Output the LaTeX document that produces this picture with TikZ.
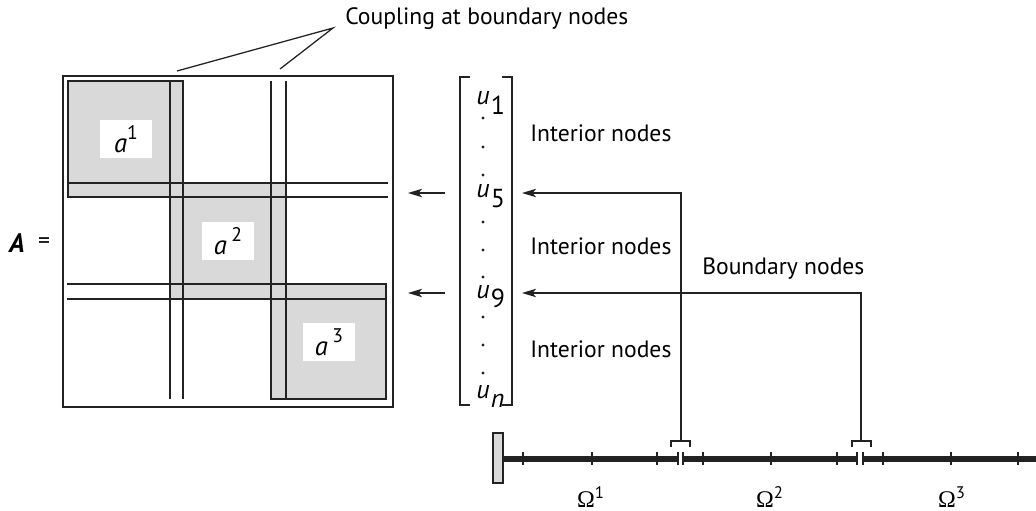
\documentclass[tikz,border=0pt]{standalone}
\usepackage{fontspec}
\setmainfont{PT Sans}
\newfontfamily\omegafont{Liberation Serif}
\usepackage{xcolor}
\definecolor{blockgray}{HTML}{D9D9D9}
\definecolor{inkline}{HTML}{222222}
\usetikzlibrary{arrows.meta,positioning}

\begin{document}
\begin{tikzpicture}[
    x=0.025cm, y=-0.025cm, >=Stealth, font=\fontsize{16.8}{19}\selectfont,
    thinline/.style={draw=inkline, line width=0.9pt},
    blockfill/.style={fill=blockgray},
    labelbox/.style={fill=white, minimum width=1.3cm, minimum height=0.95cm, inner sep=0pt, font=\fontsize{19}{21}\selectfont},
    sidetext/.style={anchor=base west, inner sep=0pt},
    ventry/.style={anchor=base west, inner sep=0pt, font=\fontsize{18.5}{20}\selectfont},
    arr/.style={-{Stealth[length=10pt,width=6pt,inset=2.5pt]}, draw=inkline, line width=0.9pt},
    beamline/.style={draw=inkline, line width=3.6pt},
    tickmark/.style={draw=inkline, line width=0.8pt},
    clamp/.style={draw=inkline, line width=1.2pt}
  ]
  \useasboundingbox (0,0) rectangle (1036,511);

  % block matrix
  \fill[blockfill] (68,81) rectangle (183,197);
  \fill[blockfill] (170,183) rectangle (286,299);
  \fill[blockfill] (271,284) rectangle (386,399);
  \draw[thinline] (63,76) rectangle (393,407);
  \draw[thinline] (68,81) rectangle (183,197);
  \draw[thinline] (271,284) rectangle (386,399);
  \foreach \x in {170,183,271,286} {\draw[thinline] (\x,81) -- (\x,399);}
  \foreach \y in {183,197} {\draw[thinline] (68,\y) -- (388,\y);}
  \foreach \y in {284,299} {\draw[thinline] (67,\y) -- (386,\y);}
  \node[labelbox] (a1) at (126,139) {\textit{a}\raisebox{0.5em}{\fontsize{14}{14}\selectfont 1}};
  \node[labelbox] (a2) at (228,241) {\textit{a}\,\raisebox{0.5em}{\fontsize{14}{14}\selectfont 2}};
  \node[labelbox] (a3) at (329,342) {\textit{a}\,\raisebox{0.5em}{\fontsize{14}{14}\selectfont 3}};
  \node[font=\fontsize{19}{21}\selectfont] (lhs) at (17,243) {\textbf{\textit{A}}};
  \node (eq) at (44,243) {=};

  % coupling label
  \node[sidetext] (coupling) at (345,25) {Coupling at boundary nodes};
  \coordinate (apex) at (333,28);
  \coordinate (cpl1) at (177,71);
  \coordinate (cpl2) at (280,69);
  \draw[thinline] (cpl1) -- (apex) -- (cpl2);

  % unknown vector
  \draw[thinline] (470,77) -| (460,405) -- (470,405);
  \draw[thinline] (502,77) -| (512,405) -- (502,405);
  \node[ventry] (u1) at (476,105) {\textit{u}\kern1pt\raisebox{-0.38em}{1}};
  \node[ventry] (u5) at (476,198) {\textit{u}\kern1pt\raisebox{-0.38em}{5}};
  \node[ventry] (u9) at (476,298) {\textit{u}\kern1pt\raisebox{-0.38em}{9}};
  \node[ventry] (un) at (476,398) {\textit{u}\kern1pt\raisebox{-0.38em}{\textit{n}}};
  \foreach \y in {118,147,175,222,250,277,317,345,373} {\fill[inkline] (483,\y) circle (1.1pt);}
  \node[sidetext] (int1) at (530,142) {Interior nodes};
  \node[sidetext] (int2) at (530,254) {Interior nodes};
  \node[sidetext] (int3) at (530,357) {Interior nodes};
  \node[sidetext] (bnd) at (702,274) {Boundary nodes};

  % arrows to matrix
  \coordinate (s5) at (445,193);
  \coordinate (m5) at (408,193);
  \coordinate (s9) at (445,293);
  \coordinate (m9) at (408,293);
  \draw[arr] (s5) -- (m5);
  \draw[arr] (s9) -- (m9);

  % arrows from boundary nodes
  \coordinate (b5) at (681,441);
  \coordinate (t5) at (522,193);
  \coordinate (b9) at (861,441);
  \coordinate (t9) at (522,293);
  \draw[arr] (b5) |- (t5);
  \draw[arr] (b9) |- (t9);
  \draw[clamp] (671,447) -- (671,441) -- (690,441) -- (690,447);
  \draw[clamp] (852,447) -- (852,441) -- (871,441) -- (871,447);

  % bar
  \filldraw[fill=blockgray, draw=inkline, line width=1.4pt] (493,433) rectangle (503,483);
  \draw[beamline] (503,459) -- (678,459);
  \draw[beamline] (683,459) -- (857,459);
  \draw[beamline] (863,459) -- (1036,459);
  \foreach \x in {523,592,657,678,683,703,771,837,857,863,883,951,1018} {\draw[tickmark] (\x,452) -- (\x,465);}
  \node[anchor=base, font=\fontsize{17}{19}\selectfont] (om1) at (591,507) {{\omegafont Ω}\textsuperscript{1}};
  \node[anchor=base, font=\fontsize{17}{19}\selectfont] (om2) at (770,507) {{\omegafont Ω}\textsuperscript{2}};
  \node[anchor=base, font=\fontsize{17}{19}\selectfont] (om3) at (952,507) {{\omegafont Ω}\textsuperscript{3}};
\end{tikzpicture}
\end{document}
